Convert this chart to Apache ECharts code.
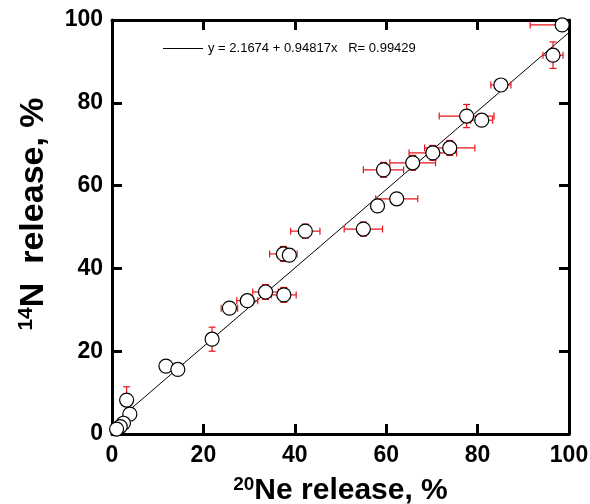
<!DOCTYPE html>
<html>
<head>
<meta charset="utf-8">
<script src="https://cdn.jsdelivr.net/npm/echarts@6/dist/echarts.min.js"></script>
<style>
html,body{margin:0;padding:0;background:#fff;}
#c{width:590px;height:504px;}
</style>
</head>
<body>
<div id="c"></div>
<script>
// 20Ne release, %
var neRelease = [98.5, 96.5, 85.1, 80.9, 77.6, 73.9, 70.2, 65.8, 59.4, 62.3, 58.1, 55.0, 42.3, 37.5, 38.8, 33.6, 37.6, 29.6, 25.7, 21.9, 11.8, 14.4, 3.2, 3.9, 2.5, 1.8, 1.0];
// 14N release, %
var nRelease  = [98.8, 91.5, 84.3, 75.8, 76.8, 69.1, 67.9, 65.5, 63.8, 56.8, 55.1, 49.5, 49.0, 43.5, 43.2, 34.3, 33.6, 32.2, 30.4, 22.9, 16.4, 15.6, 8.2, 4.8, 2.6, 1.8, 1.2];
// x error (Ne)
var neErr = [7.0, 2.2, 2.2, 2.4, 6.0, 5.5, 5.2, 5.0, 4.4, 4.6, 1.0, 4.2, 3.2, 3.0, 1.2, 2.8, 2.7, 2.3, 1.8, 1.2, 0, 0, 0.3, 0.3, 0.5, 0.5, 0.5];
// y error (N)
var nErr  = [0.8, 3.2, 0.8, 0.8, 2.8, 1.8, 1.8, 1.8, 1.8, 0.8, 0.8, 1.7, 1.7, 1.8, 1.0, 1.8, 1.8, 1.0, 1.0, 2.9, 0, 0, 3.2, 1.5, 0.5, 0.5, 0.5];
// linear fit y = 2.1674 + 0.94817x, endpoints
var fitX = [0, 100];
var fitY = [2.1674, 96.9844];
var fitLabel = 'y = 2.1674 + 0.94817x   R= 0.99429';

var pts = neRelease.map(function (x, i) { return [x, nRelease[i], neErr[i], nErr[i]]; });
var fitData = fitX.map(function (x, i) { return [x, fitY[i]]; });

var chart = echarts.init(document.getElementById('c'), null, {renderer: 'canvas'});
var red = '#e8141c';
var cap = 3.5;
var FONT = 'Arial, Liberation Sans, sans-serif';

function errItem(params, api) {
  var x = api.value(0), y = api.value(1), ex = api.value(2), ey = api.value(3);
  var children = [];
  var st = {stroke: red, lineWidth: 1.2};
  if (ex > 0) {
    var l = api.coord([x - ex, y]), r = api.coord([x + ex, y]);
    children.push({type: 'line', shape: {x1: l[0], y1: l[1], x2: r[0], y2: r[1]}, style: st});
    children.push({type: 'line', shape: {x1: l[0], y1: l[1] - cap, x2: l[0], y2: l[1] + cap}, style: st});
    children.push({type: 'line', shape: {x1: r[0], y1: r[1] - cap, x2: r[0], y2: r[1] + cap}, style: st});
  }
  if (ey > 0) {
    var t = api.coord([x, y + ey]), b = api.coord([x, y - ey]);
    children.push({type: 'line', shape: {x1: t[0], y1: t[1], x2: b[0], y2: b[1]}, style: st});
    children.push({type: 'line', shape: {x1: t[0] - cap, y1: t[1], x2: t[0] + cap, y2: t[1]}, style: st});
    children.push({type: 'line', shape: {x1: b[0] - cap, y1: b[1], x2: b[0] + cap, y2: b[1]}, style: st});
  }
  return {type: 'group', children: children};
}

var axisCommon = {
  min: 0, max: 100, interval: 20,
  splitLine: {show: false},
  axisLine: {show: true, onZero: false, lineStyle: {color: '#000', width: 3}},
  axisTick: {show: true, inside: true, length: 10, lineStyle: {color: '#000', width: 3}}
};
var labelStyle = {fontFamily: FONT, fontWeight: 'bold', fontSize: 23, color: '#000'};
function titleRich(size, supSize) {
  return {
    sup: {fontFamily: FONT, fontWeight: 'bold', fontSize: supSize, verticalAlign: 'top', color: '#000', padding: [0, 0, Math.round(size * 0.42), 0]},
    b: {fontFamily: FONT, fontWeight: 'bold', fontSize: size, color: '#000'}
  };
}

var option = {
  backgroundColor: '#fff',
  animation: false,
  grid: {left: 112, right: 21, top: 20, bottom: 70, containLabel: false, outerBoundsMode: 'none'},
  legend: {
    data: [{name: fitLabel, icon: 'rect'}],
    left: 158, top: 37,
    itemWidth: 40, itemHeight: 1, itemGap: 5,
    textStyle: {fontFamily: FONT, fontSize: 13, color: '#000'}
  },
  xAxis: [
    Object.assign({}, axisCommon, {
      type: 'value', position: 'bottom',
      axisLabel: Object.assign({margin: 10}, labelStyle),
      name: '{sup|20}{b|Ne release, %}',
      nameLocation: 'middle', nameGap: 41,
      nameTextStyle: {rich: titleRich(30, 19)}
    }),
    Object.assign({}, axisCommon, {type: 'value', position: 'top', axisLabel: {show: false}})
  ],
  yAxis: [
    Object.assign({}, axisCommon, {
      type: 'value', position: 'left',
      axisLabel: Object.assign({margin: 9}, labelStyle),
      name: '{sup|14}{b|N  release, %}',
      nameLocation: 'middle', nameGap: 61, nameRotate: 90,
      nameTextStyle: {rich: titleRich(34, 21), padding: [0, 0, 0, 26]}
    }),
    Object.assign({}, axisCommon, {type: 'value', position: 'right', axisLabel: {show: false}})
  ],
  series: [
    {
      name: fitLabel, type: 'line', data: fitData, symbol: 'none', showSymbol: false,
      lineStyle: {color: '#000', width: 1}, itemStyle: {color: '#000'}, z: 2
    },
    {
      type: 'custom', renderItem: errItem, data: pts, clip: true, z: 3,
      encode: {x: 0, y: 1}
    },
    {
      type: 'scatter', data: pts, symbol: 'circle', symbolSize: 14, z: 4,
      itemStyle: {color: '#fff', borderColor: '#000', borderWidth: 1.2, opacity: 1}
    }
  ]
};
chart.setOption(option);
</script>
</body>
</html>
